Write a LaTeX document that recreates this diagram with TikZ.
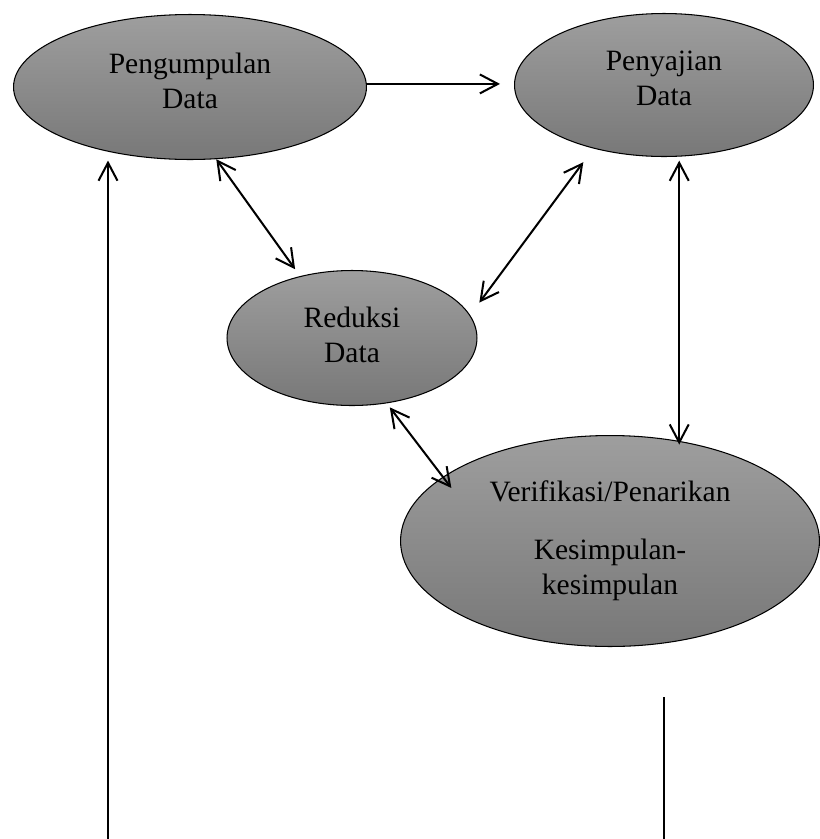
\documentclass[tikz,border=0pt]{standalone}
\usepackage{fontspec}
\setmainfont{Liberation Serif}
\usetikzlibrary{shapes.geometric,arrows.meta}

\begin{document}
\begin{tikzpicture}[x=0.02cm,y=-0.02cm,
  >={Straight Barb[length=0.36cm,width=0.38cm]},
  blob/.style={ellipse, draw=black, line width=0.6pt, top color=black!38, bottom color=black!53,
    inner sep=0pt, align=center, font=\fontsize{16.8}{20}\selectfont},
  link/.style={line width=1.15pt}]

  \useasboundingbox (0,0) rectangle (820,839);

  % Ellipses
  \node[blob, minimum width=7.06cm, minimum height=2.9cm, text depth=0.26cm] (peng) at (190,87) {Pengumpulan\\Data};
  \node[blob, minimum width=5.98cm, minimum height=2.86cm, text depth=0.26cm] (pen) at (664,85) {Penyajian\\Data};
  \node[blob, minimum width=5cm, minimum height=2.7cm, text depth=0.12cm] (red) at (352,338) {Reduksi\\Data};
  \node[blob, minimum width=8.38cm, minimum height=4.22cm] (ver) at (610,541) {Verifikasi/Penarikan\\[0.46cm]Kesimpulan-\\kesimpulan};

  % Arrows between the ellipses
  \draw[link, ->, shorten >=0.28cm] (peng.1) -- (peng.1 -| pen.west);
  \draw[link, <->, shorten >=0.17cm] (peng.-70) -- (red.130);
  \draw[link, <->, shorten <=0.31cm, shorten >=0.34cm] (red.11) -- (pen.-138);
  \draw[link, <->, shorten <=0.08cm, shorten >=-0.07cm] (pen.-78) -- (pen.-78 |- ver.55);
  \draw[link, <->, shorten <=0.1cm, shorten >=-0.28cm] (red.-62) -- (ver.159);

  % Lines at the bottom
  \coordinate (bl) at (108,839);
  \coordinate (r1) at (664,697);
  \coordinate (r2) at (664,839);
  \draw[link, ->, shorten >=0.18cm] (bl) -- (bl |- peng.-142);
  \draw[line width=0.6pt] (r1) -- (r2);
\end{tikzpicture}
\end{document}
